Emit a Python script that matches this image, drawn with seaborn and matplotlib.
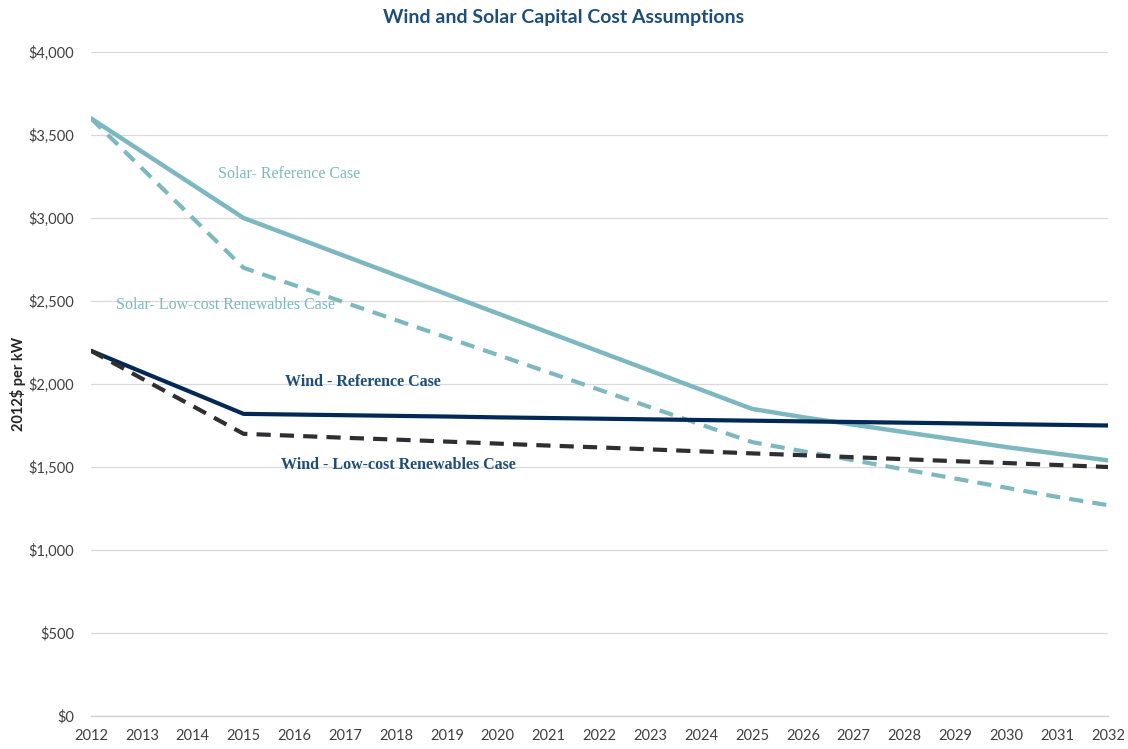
import numpy as np
import pandas as pd
import matplotlib
matplotlib.use("Agg")
import matplotlib.pyplot as plt
import seaborn as sns
from matplotlib.ticker import FuncFormatter, MultipleLocator

years = list(range(2012, 2033))
solar_ref = [3600, 3400, 3200, 3000, 2885, 2770, 2655, 2540, 2425, 2310, 2195,
             2080, 1965, 1850, 1800, 1755, 1710, 1665, 1620, 1580, 1540]
solar_low = [3600, 3300, 3000, 2700, 2595, 2490, 2385, 2280, 2175, 2070, 1965,
             1860, 1755, 1650, 1595, 1540, 1485, 1430, 1375, 1320, 1270]
wind_ref = [2200, 2073, 1947, 1820, 1816, 1812, 1808, 1804, 1799, 1795, 1791,
            1787, 1783, 1779, 1775, 1771, 1767, 1763, 1758, 1754, 1750]
wind_low = [2200, 2033, 1867, 1700, 1688, 1676, 1665, 1653, 1641, 1629, 1618,
            1606, 1594, 1582, 1571, 1559, 1547, 1535, 1524, 1512, 1500]

series_names = ["Solar- Reference Case", "Solar- Low-cost Renewables Case",
                "Wind - Reference Case", "Wind - Low-cost Renewables Case"]
title = "Wind and Solar Capital Cost Assumptions"
ylabel = "2012$ per kW"

SOLAR = "#7db8c1"
WIND = "#002a55"
WIND_LOW = "#2e2e33"
TEXT_BLUE = "#1f4e79"

sns.set_theme(style="white")
plt.rcParams['font.family'] = ['Lato', 'DejaVu Sans']

fig = plt.figure(figsize=(11.28, 7.49), dpi=100)
ax = fig.add_axes([91/1128, 1 - 716/749, (1108 - 91)/1128, (716 - 52)/749])

df = pd.DataFrame({
    "year": years * 4,
    "cost": solar_ref + solar_low + wind_ref + wind_low,
    "series": sum([[n] * len(years) for n in series_names], []),
})

styles = {
    series_names[0]: dict(color=SOLAR, lw=3.2, dash=None),
    series_names[1]: dict(color=SOLAR, lw=3.0, dash=(3.4, 2.2)),
    series_names[2]: dict(color=WIND, lw=3.0, dash=None),
    series_names[3]: dict(color=WIND_LOW, lw=3.0, dash=(3.4, 2.2)),
}
for name in series_names:
    sub = df[df["series"] == name]
    st = styles[name]
    sns.lineplot(data=sub, x="year", y="cost", ax=ax, color=st["color"],
                 linewidth=st["lw"], legend=False)
    line = ax.get_lines()[-1]
    if st["dash"] is not None:
        line.set_dashes(st["dash"])

ax.set_xlim(2012, 2032)
ax.set_ylim(0, 4000)
ax.xaxis.set_major_locator(MultipleLocator(1))
ax.yaxis.set_major_locator(MultipleLocator(500))
ax.yaxis.set_major_formatter(FuncFormatter(lambda v, p: f"${v:,.0f}"))
ax.grid(axis="y", color="#d9d9d9", linewidth=0.9)
ax.grid(axis="x", visible=False)
ax.set_axisbelow(True)
for s in ["top", "right", "left"]:
    ax.spines[s].set_visible(False)
ax.spines["bottom"].set_color("#d0d0d0")
ax.spines["bottom"].set_linewidth(1.0)
ax.tick_params(axis="x", which="major", direction="out", length=5, width=0.9,
               color="#c8c8c8", labelsize=10.5, labelcolor="#404040", pad=4)
ax.tick_params(axis="y", length=0, labelsize=10.5, labelcolor="#404040", pad=12)
ax.set_xlabel("")
ax.set_ylabel(ylabel, fontsize=10.5, fontweight="bold", color="#262626")
ax.yaxis.set_label_coords(-0.064, 0.5)

fig.text(0.5, 1 - 18/749, title, ha="center", va="center", fontsize=14,
         fontweight="bold", color=TEXT_BLUE)

serif = ['Liberation Serif', 'DejaVu Serif']
ax.text(2014.5, 3265, series_names[0], family=serif, fontsize=11.5, color=SOLAR,
        ha="left", va="center")
ax.text(2012.49, 2476, series_names[1], family=serif, fontsize=11.5, color=SOLAR,
        ha="left", va="center")
ax.text(2015.82, 2012, series_names[2], family=serif, fontsize=11.5, color=TEXT_BLUE,
        ha="left", va="center", fontweight="bold")
ax.text(2015.74, 1512, series_names[3], family=serif, fontsize=11.5, color=TEXT_BLUE,
        ha="left", va="center", fontweight="bold")

fig.savefig("out.png", dpi=100)
